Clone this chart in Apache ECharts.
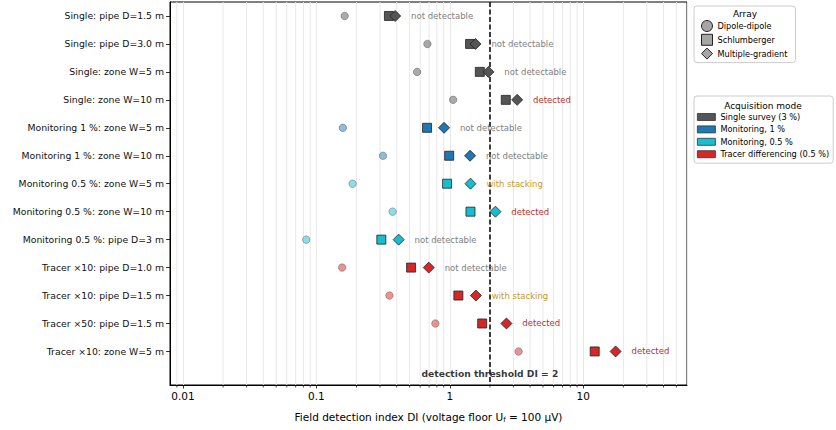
<!DOCTYPE html>
<html>
<head>
<meta charset="utf-8">
<script src="https://cdn.jsdelivr.net/npm/echarts@6/dist/echarts.min.js"></script>
<style>html,body{margin:0;padding:0;background:#fff;}#chart{width:836px;height:430px;}</style>
</head>
<body>
<div id="chart"></div>
<script>
const categories = [
  'Single: pipe D=1.5 m', 'Single: pipe D=3.0 m', 'Single: zone W=5 m', 'Single: zone W=10 m',
  'Monitoring 1 %: zone W=5 m', 'Monitoring 1 %: zone W=10 m',
  'Monitoring 0.5 %: zone W=5 m', 'Monitoring 0.5 %: zone W=10 m', 'Monitoring 0.5 %: pipe D=3 m',
  'Tracer ×10: pipe D=1.0 m', 'Tracer ×10: pipe D=1.5 m', 'Tracer ×50: pipe D=1.5 m', 'Tracer ×10: zone W=5 m'
];
const dipoleDipole     = [0.163, 0.68, 0.569, 1.06, 0.158, 0.316, 0.187, 0.373, 0.084, 0.156, 0.353, 0.78, 3.28];
const schlumberger     = [0.35, 1.42, 1.68, 2.63, 0.676, 0.99, 0.955, 1.43, 0.307, 0.513, 1.16, 1.75, 12.2];
const multipleGradient = [0.39, 1.56, 1.95, 3.2, 0.906, 1.42, 1.43, 2.2, 0.414, 0.696, 1.57, 2.66, 17.5];
const status = ['not detectable', 'not detectable', 'not detectable', 'detected',
  'not detectable', 'not detectable', 'with stacking', 'detected', 'not detectable',
  'not detectable', 'with stacking', 'detected', 'detected'];
const rowMode = [0, 0, 0, 0, 1, 1, 2, 2, 2, 3, 3, 3, 3];
const modeNames = ['Single survey (3 %)', 'Monitoring, 1 %', 'Monitoring, 0.5 %', 'Tracer differencing (0.5 %)'];
const arrayNames = ['Dipole-dipole', 'Schlumberger', 'Multiple-gradient'];
const threshold = 2;
const thresholdText = 'detection threshold DI = 2';
const xTickLabels = ['0.01', '0.1', '1', '10'];
const minorTickValues = [0.009, 0.02, 0.03, 0.04, 0.05, 0.06, 0.07, 0.08, 0.09,
  0.2, 0.3, 0.4, 0.5, 0.6, 0.7, 0.8, 0.9, 2, 3, 4, 5, 6, 7, 8, 9, 20, 30, 40, 50];

const modeColors = ['#555555', '#1f77b4', '#17becf', '#d62728'];
const statusColors = {'not detectable': '#808080', 'detected': '#b5332e', 'with stacking': '#c89a25'};
const FONT = 'DejaVu Sans';

const chart = echarts.init(document.getElementById('chart'), null, {renderer: 'svg'});

function pts(arr, extra) {
  return arr.map((v, i) => Object.assign({
    value: [v, i],
    itemStyle: {color: modeColors[rowMode[i]]}
  }, extra ? extra(i) : {}));
}

const series = [
  {
    type: 'custom', name: 'minor', silent: true, clip: false, z: 0,
    data: minorTickValues.map(v => [v, 0]),
    renderItem: function (params, api) {
      const x = api.coord([api.value(0), 0])[0];
      const top = params.coordSys.y, bottom = top + params.coordSys.height;
      return {type: 'group', children: [
        {type: 'line', shape: {x1: x, y1: top, x2: x, y2: bottom}, style: {stroke: '#e8e8e8', lineWidth: 1}},
        {type: 'line', shape: {x1: x, y1: bottom, x2: x, y2: bottom + 2.5}, style: {stroke: '#000', lineWidth: 0.7}}
      ]};
    }
  },
  {
    type: 'scatter', name: arrayNames[0], symbol: 'circle', symbolSize: 7.5, z: 3,
    itemStyle: {opacity: 0.5, borderColor: '#333', borderWidth: 0.7},
    data: pts(dipoleDipole)
  },
  {
    type: 'scatter', name: arrayNames[1], symbol: 'rect', symbolSize: 9, z: 4,
    itemStyle: {opacity: 1, borderColor: '#222', borderWidth: 0.8},
    data: pts(schlumberger)
  },
  {
    type: 'scatter', name: arrayNames[2], symbol: 'diamond', symbolSize: 11, z: 5,
    itemStyle: {opacity: 1, borderColor: '#222', borderWidth: 0.8},
    label: {show: true, position: 'right', distance: 10, fontSize: 8.5, fontFamily: FONT, opacity: 1},
    data: pts(multipleGradient, i => ({label: {formatter: status[i], color: statusColors[status[i]]}})),
    markLine: {
      silent: true, symbol: 'none', animation: false,
      label: {show: false},
      lineStyle: {color: '#000', type: [5, 2.5], width: 1.5, opacity: 1},
      data: [{xAxis: threshold}]
    }
  },
  {
    type: 'scatter', name: 'threshold', symbolSize: 0, silent: true, z: 6,
    data: [[threshold, 12.8]],
    label: {show: true, position: 'inside', formatter: thresholdText, fontSize: 9.2,
      fontWeight: 'bold', color: '#000', fontFamily: FONT}
  }
];
modeNames.forEach((n, k) => series.push({type: 'scatter', name: n, data: [], itemStyle: {color: modeColors[k], opacity: 1}}));

chart.setOption({
  animation: false,
  textStyle: {fontFamily: FONT},
  grid: {left: 170, right: 149, top: 2, bottom: 45, show: true, borderColor: '#000', borderWidth: 1, backgroundColor: 'transparent'},
  xAxis: {
    type: 'log', logBase: 10, min: 0.008, max: 60,
    axisLine: {show: true, onZero: false, lineStyle: {color: '#000', width: 1}},
    axisTick: {show: true, length: 3.5, lineStyle: {color: '#000', width: 0.8}},
    axisLabel: {
      color: '#000', fontSize: 10.5, fontFamily: FONT, margin: 5,
      showMinLabel: false, showMaxLabel: false,
      formatter: v => { const s = String(+(+v).toPrecision(3)); return xTickLabels.indexOf(s) >= 0 ? s : ''; }
    },
    splitLine: {show: true, lineStyle: {color: '#e8e8e8', width: 1}},
    name: 'Field detection index DI (voltage floor U{sub|f} = 100 µV)',
    nameLocation: 'middle', nameGap: 25,
    nameTextStyle: {color: '#000', fontSize: 10.5, fontFamily: FONT,
      rich: {sub: {fontSize: 7, fontFamily: FONT, color: '#000', verticalAlign: 'bottom', padding: [6, 0, 0, 0]}}}
  },
  yAxis: {
    type: 'value', inverse: true, min: -0.5, max: 13.2,
    axisLine: {show: true, onZero: false, lineStyle: {color: '#000', width: 1}},
    axisTick: {show: true, length: 4, customValues: categories.map((c, i) => i), lineStyle: {color: '#000', width: 0.8}},
    axisLabel: {show: true, customValues: categories.map((c, i) => i), color: '#111', fontSize: 9.3, fontFamily: FONT, margin: 6,
      formatter: v => categories[Math.round(v)] || ''},
    splitLine: {show: false}
  },
  legend: [
    {
      data: arrayNames.map((n, k) => ({name: n, icon: ['circle', 'rect', 'diamond'][k],
        itemStyle: {color: '#a6a6a6', borderColor: '#222', borderWidth: 1, opacity: 1}})),
      orient: 'vertical', left: 694, top: 6, itemWidth: 11, itemHeight: 11, itemGap: 1.8,
      padding: [14, 8, 3, 7], backgroundColor: '#fff', borderColor: '#cccccc', borderWidth: 1, borderRadius: 3,
      textStyle: {fontSize: 8.2, color: '#000', fontFamily: FONT}, selectedMode: false
    },
    {
      data: modeNames.map((n, k) => ({name: n, icon: 'rect', itemStyle: {color: modeColors[k], borderColor: '#333', borderWidth: 0.8, opacity: 1}})),
      orient: 'vertical', left: 694, top: 96, itemWidth: 18, itemHeight: 7, itemGap: 4.4,
      padding: [17, 4, 5, 3], backgroundColor: '#fff', borderColor: '#cccccc', borderWidth: 1, borderRadius: 3,
      textStyle: {fontSize: 8.2, color: '#000', fontFamily: FONT}, selectedMode: false
    }
  ],
  graphic: [
    {type: 'text', z: 100, x: 745, y: 14, style: {text: 'Array', fill: '#000', font: '9px "DejaVu Sans"', align: 'center', verticalAlign: 'middle'}},
    {type: 'text', z: 100, x: 763, y: 105.5, style: {text: 'Acquisition mode', fill: '#000', font: '9px "DejaVu Sans"', align: 'center', verticalAlign: 'middle'}}
  ],
  series: series
});
</script>
</body>
</html>
